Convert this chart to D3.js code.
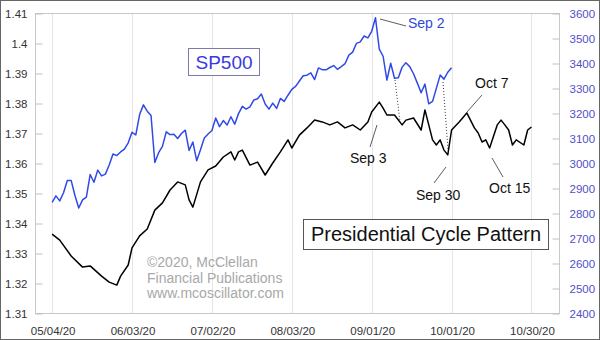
<!DOCTYPE html>
<html><head><meta charset="utf-8">
<script src="https://cdn.jsdelivr.net/npm/d3@7"></script>
<style>body{margin:0;background:#fff}svg{display:block}text{font-family:Arial,"Liberation Sans",sans-serif}</style>
</head><body><svg id="c" width="600" height="340"></svg>
<script>
const tickLabels = ["05/04/20","06/03/20","07/02/20","08/03/20","09/01/20","10/01/20","10/30/20"];
const tickIdx = [0,21,42,63,84,105,126];
const leftTicks = [1.31,1.32,1.33,1.34,1.35,1.36,1.37,1.38,1.39,1.40,1.41];
const leftLabels = ["1.31","1.32","1.33","1.34","1.35","1.36","1.37","1.38","1.39","1.4","1.41"];
const rightTicks = [2400,2500,2600,2700,2800,2900,3000,3100,3200,3300,3400,3500,3600];
// SP500 daily closes, trading day index 0 = 05/04/20
const spx = [2842.7,2868.4,2848.4,2881.2,2929.8,2930.3,2870.1,2820.0,2852.5,2863.7,2953.9,2922.9,2971.6,2948.5,2955.5,2991.8,3036.1,3029.7,3044.3,
3055.7,3080.8,3122.9,3112.4,3193.9,3232.4,3207.2,3190.1,3002.1,3041.3,3066.6,3124.7,3113.5,3115.3,3097.7,3117.9,3131.3,3050.3,3083.8,3009.1,3053.2,3100.3,
3115.9,3130.0,3179.7,3145.3,3169.9,3152.1,3185.0,3155.2,3197.5,3226.6,3215.6,3224.7,3251.8,3257.3,3276.0,3235.7,3215.6,3239.4,3218.4,3258.4,3246.2,3271.1,
3294.6,3306.5,3327.8,3349.2,3351.3,3360.5,3333.7,3380.4,3373.4,3372.9,3382.0,3389.8,3374.9,3385.5,3397.2,3431.3,3443.6,3478.7,3484.6,3508.0,3500.3,
3526.7,3580.8,3455.1,3427.0,3331.8,3399.0,3339.2,3341.0,3383.5,3401.2,3385.5,3357.0,3319.5,3281.1,3315.6,3236.9,3246.6,3298.5,3351.6,3335.5,3363.0,
3380.8];
// Presidential cycle pattern
const patIdx = [0,2,5,8,10,13,15,17,18,20,21,23,25,27,29,31,33,35,36,37,39,41,43,45,47,48,49,50,52,54,56,58,60,62,63,65,67,69,71,73,75,77,79,81,83,84,86,87,88,90,92,93,95,97,98,100,101,102,103,104,105,107,109,111,112,113,114,115,117,118,119,120,121,122,124,125,126];
const patVal = [1.3363,1.3343,1.329,1.3253,1.3257,1.3223,1.3203,1.3193,1.3223,1.326,1.3317,1.3357,1.338,1.3443,1.3467,1.351,1.3537,1.3527,1.3477,1.3453,1.3537,1.3577,1.359,1.362,1.3637,1.361,1.3637,1.3643,1.3593,1.3603,1.356,1.36,1.3637,1.3677,1.365,1.3693,1.3717,1.3743,1.3737,1.3727,1.3737,1.3717,1.3727,1.371,1.3737,1.377,1.3803,1.3783,1.376,1.376,1.3727,1.3743,1.375,1.371,1.3777,1.3677,1.366,1.3677,1.3643,1.3627,1.371,1.3737,1.3767,1.3717,1.37,1.367,1.3677,1.365,1.3727,1.3743,1.3727,1.371,1.366,1.3677,1.366,1.371,1.372];
const notes = [
  {t:"Sep 2", color:"#3048e0", x:408, y:28, l:[380,19,406,26]},
  {t:"Sep 3", color:"#111", x:350, y:163, l:[370,147,377,125]},
  {t:"Oct 7", color:"#111", x:475, y:88, l:[467,112,482,95]},
  {t:"Sep 30", color:"#111", x:416, y:200, l:[434,183,446,167]},
  {t:"Oct 15", color:"#111", x:489, y:193, l:[492,158,503,177]}
];
const dotted = [[395,80,400,122],[443,82,448,150]];

const svg = d3.select("#c");
const L = 35, R = 560, T = 13, B = 313;
const x = d3.scaleLinear().domain([-4.5,133.5]).range([L,R]);
const yL = d3.scaleLinear().domain([1.31,1.41]).range([B,T]);
const yR = d3.scaleLinear().domain([2400,3600]).range([B,T]);

svg.append("rect").attr("x",0.5).attr("y",0.5).attr("width",599).attr("height",339).attr("fill","#fff").attr("stroke","#666");

svg.append("g").selectAll("line").data(tickIdx).join("line")
  .attr("x1",d=>Math.round(x(d))+0.5).attr("x2",d=>Math.round(x(d))+0.5)
  .attr("y1",T).attr("y2",B).attr("stroke","#e4e4e4");
svg.append("rect").attr("x",L+0.5).attr("y",T+0.5).attr("width",R-L-1).attr("height",B-T).attr("fill","none").attr("stroke","#c8c8c8");

const gl = svg.append("g").attr("transform",`translate(${L+0.5},0.5)`)
  .call(d3.axisLeft(yL).tickValues(leftTicks).tickFormat((d,i)=>leftLabels[i]).tickSize(-7).tickPadding(8));
gl.select(".domain").remove();
gl.selectAll("line").attr("stroke","#c0c0c0");
gl.selectAll("text").attr("fill","#333").style("font-size","11.5px");

const gr = svg.append("g").attr("transform",`translate(${R-0.5},0.5)`)
  .call(d3.axisRight(yR).tickValues(rightTicks).tickFormat(d3.format("d")).tickSize(-7).tickPadding(10));
gr.select(".domain").remove();
gr.selectAll("line").attr("stroke","#c0c0c0");
gr.selectAll("text").attr("fill","#5050c8").style("font-size","11.5px");

const gx = svg.append("g").attr("transform",`translate(0.5,${B})`)
  .call(d3.axisBottom(x).tickValues(tickIdx).tickFormat((d,i)=>tickLabels[i]).tickSize(0).tickPadding(14));
gx.select(".domain").remove();
gx.selectAll("text").attr("fill","#333").style("font-size","11.5px");

svg.append("g").selectAll("line").data(dotted).join("line")
  .attr("x1",d=>d[0]).attr("y1",d=>d[1]).attr("x2",d=>d[2]).attr("y2",d=>d[3])
  .attr("stroke","#333").attr("stroke-dasharray","1,2");

svg.append("path").datum(spx).attr("fill","none").attr("stroke","#2f4ae6").attr("stroke-width",1.5)
  .attr("stroke-linejoin","round")
  .attr("d",d3.line().x((d,i)=>x(i)).y(d=>yR(d)));
svg.append("path").datum(patVal).attr("fill","none").attr("stroke","#000").attr("stroke-width",1.5)
  .attr("stroke-linejoin","round")
  .attr("d",d3.line().x((d,i)=>x(patIdx[i])).y(d=>yL(d)));

const ng = svg.append("g");
notes.forEach(n=>{
  ng.append("line").attr("x1",n.l[0]).attr("y1",n.l[1]).attr("x2",n.l[2]).attr("y2",n.l[3]).attr("stroke","#333").attr("stroke-width",0.8);
  ng.append("text").attr("x",n.x).attr("y",n.y).attr("fill",n.color).style("font-size","14px").text(n.t);
});

svg.append("rect").attr("x",188.5).attr("y",48.5).attr("width",71).attr("height",27).attr("fill","#fff").attr("stroke","#7a7ab0");
svg.append("text").attr("x",224).attr("y",69).attr("text-anchor","middle").attr("fill","#3a3ae0").style("font-size","19px").text("SP500");

svg.append("rect").attr("x",303.5).attr("y",219.5).attr("width",245).attr("height",30).attr("fill","#fff").attr("stroke","#555");
svg.append("text").attr("x",426).attr("y",241).attr("text-anchor","middle").attr("fill","#111").style("font-size","20px").text("Presidential Cycle Pattern");

const cp = ["\u00a92020, McClellan","Financial Publications","www.mcoscillator.com"];
svg.append("g").selectAll("text").data(cp).join("text")
  .attr("x",147).attr("y",(d,i)=>267+i*15.5).attr("fill","#a8a8a8").style("font-size","14px").text(d=>d);
</script></body></html>
